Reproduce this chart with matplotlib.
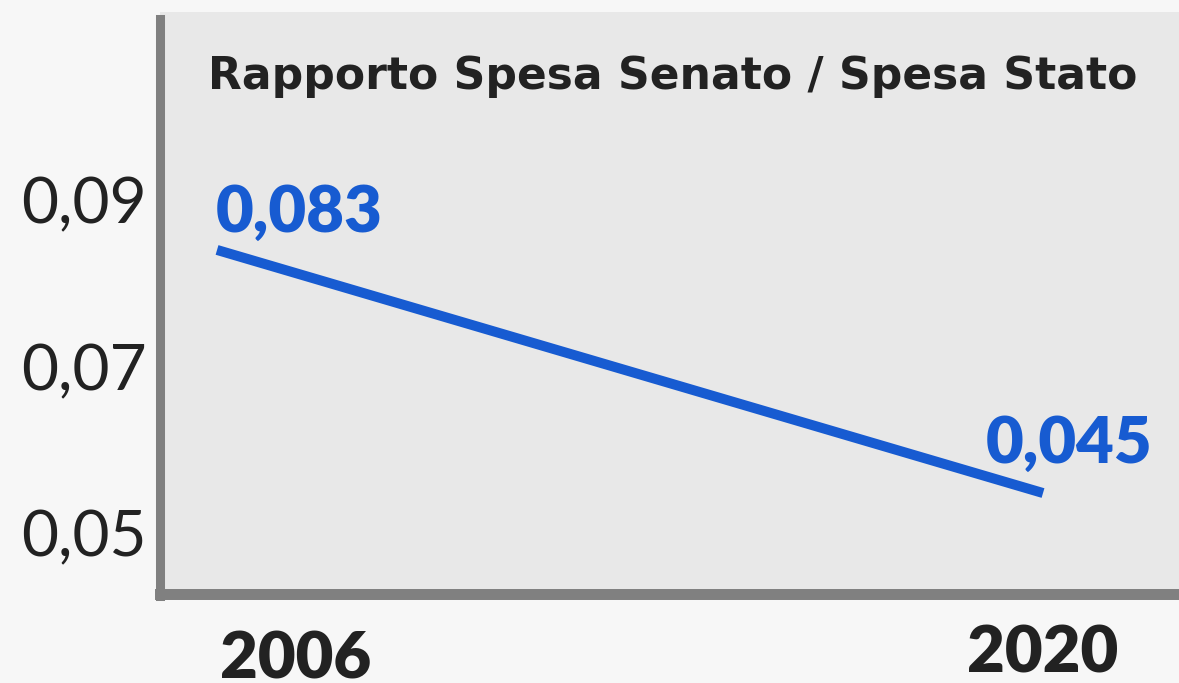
import matplotlib
matplotlib.use('Agg')
import matplotlib.pyplot as plt
import matplotlib.transforms as mtransforms

# data (line positions as drawn, labels as printed)
years = [2006, 2020]
ratio = [0.084, 0.0548]
point_labels = ['0,083', '0,045']
ytick_values = [0.05, 0.07, 0.09]
ytick_labels = ['0,05', '0,07', '0,09']
title = 'Rapporto Spesa Senato / Spesa Stato'

# colours
c_outer = '#f7f7f7'
c_axes = '#e8e8e8'
c_spine = '#808080'
c_text = '#222222'
c_line = '#175bd1'

plt.rcParams['font.family'] = ['Lato', 'DejaVu Sans']

ymin, ymax = 0.04273, 0.11258

fig = plt.figure(figsize=(11.79, 6.83), dpi=100, facecolor=c_outer)
ax = fig.add_axes([0.1353, 0.1310, 0.8647, 0.8514], facecolor=c_axes)

ax.plot(years, ratio, color=c_line, lw=7.2, solid_capstyle='butt', zorder=3)

# value labels
ax.annotate(point_labels[0], (years[0], ratio[0]), xytext=(-1, 13), textcoords='offset points',
            ha='left', va='baseline', color=c_line, fontsize=47, fontweight='heavy')
ax.annotate(point_labels[1], (years[1], ratio[1]), xytext=(79, 22), textcoords='offset points',
            ha='right', va='baseline', color=c_line, fontsize=47, fontweight='heavy')

ax.text(0.0476, 0.8676, title, transform=ax.transAxes, ha='left', va='baseline',
        color=c_text, fontsize=31.7, fontweight='bold', family='DejaVu Sans')

ax.set_xlim(2005.025, 2022.305)
ax.set_ylim(ymin, ymax)

ax.set_yticks(ytick_values)
ax.set_yticklabels(ytick_labels, fontsize=46, fontweight='normal', color=c_text)
ax.set_xticks(years)
ax.set_xticklabels([str(y) for y in years], fontsize=47, fontweight='heavy', color=c_text)
ax.tick_params(axis='both', length=0)
ax.tick_params(axis='y', pad=9)
ax.tick_params(axis='x', pad=22)

xl = ax.get_xticklabels()
xl[0].set_ha('left')
xl[0].set_transform(xl[0].get_transform() + mtransforms.ScaledTranslation(3 / 100, -6 / 100, fig.dpi_scale_trans))

for side in ['top', 'right']:
    ax.spines[side].set_visible(False)
ax.spines['left'].set_color(c_spine)
ax.spines['left'].set_linewidth(6.5)
ax.spines['left'].set_capstyle('projecting')
ax.spines['left'].set_bounds(ymin - 0.00024, ymax - 0.00078)
ax.spines['bottom'].set_color(c_spine)
ax.spines['bottom'].set_linewidth(7.9)

fig.savefig('out.png', dpi=100, facecolor=c_outer)
